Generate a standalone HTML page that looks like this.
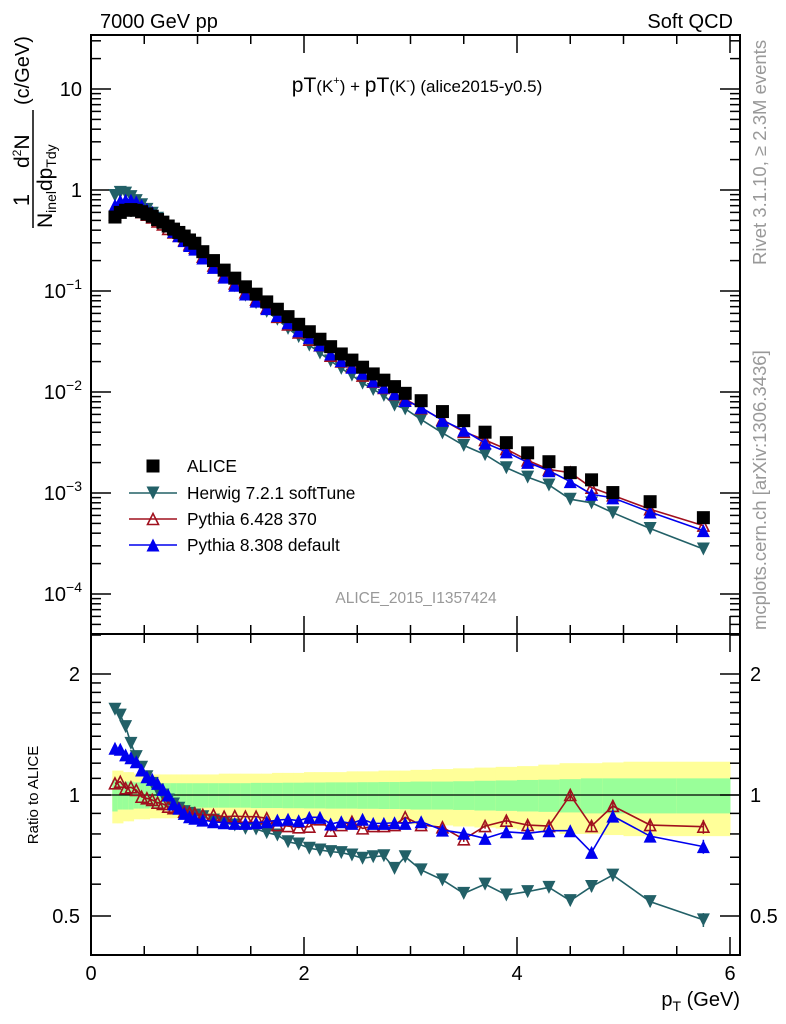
<!DOCTYPE html>
<html><head><meta charset="utf-8">
<style>
html,body{margin:0;padding:0;background:#fff;}
svg{display:block;font-family:"Liberation Sans",sans-serif;}
</style></head>
<body>
<svg id="chart" width="786" height="1024" viewBox="0 0 786 1024" xmlns="http://www.w3.org/2000/svg">
<rect x="0" y="0" width="786" height="1024" fill="#fff"/>
<g id="bands"></g>
<g id="grid"></g>
<g id="series"></g>
<text x="100" y="28" font-size="20">7000 GeV pp</text>
<text x="733" y="28" font-size="20" text-anchor="end">Soft QCD</text>
<text x="417" y="92" font-size="21" text-anchor="middle">pT<tspan font-size="17">(K<tspan dy="-8" font-size="11">+</tspan><tspan dy="8">) + </tspan></tspan>pT<tspan font-size="17">(K<tspan dy="-8" font-size="11">-</tspan><tspan dy="8">) (alice2015-y0.5)</tspan></tspan></text>
<text transform="translate(766,265) rotate(-90)" font-size="18.5" fill="#999">Rivet 3.1.10, ≥ 2.3M events</text>
<text transform="translate(766,630) rotate(-90)" font-size="18.5" fill="#999">mcplots.cern.ch [arXiv:1306.3436]</text>
<text x="416" y="603" font-size="15.5" fill="#999" text-anchor="middle">ALICE_2015_I1357424</text>
<g>
<text transform="translate(29,200) rotate(-90)" font-size="22" text-anchor="middle">1</text>
<line x1="33" y1="110" x2="33" y2="228" stroke="#000" stroke-width="1.5"/>
<text transform="translate(52,228) rotate(-90)" font-size="21">N<tspan font-size="14" dy="4">inel</tspan><tspan dy="-4">dp</tspan><tspan font-size="14" dy="4">Tdy</tspan></text>
<text transform="translate(29,168) rotate(-90)" font-size="21">d<tspan font-size="12" dy="-8">2</tspan><tspan dy="8">N</tspan></text>
<text transform="translate(29,105) rotate(-90)" font-size="20">(c/GeV)</text>
</g>
<text transform="translate(38,795) rotate(-90)" font-size="15" text-anchor="middle">Ratio to ALICE</text>
<text x="740" y="1006" font-size="20" text-anchor="end">p<tspan font-size="14" dy="5">T</tspan><tspan dy="-5"> (GeV)</tspan></text>
<g id="legend"></g>
</svg>
<script>
const binEdges = [0.2,0.25,0.3,0.35,0.4,0.45,0.5,0.55,0.6,0.65,0.7,0.75,0.8,0.85,0.9,0.95,1.0,1.1,1.2,1.3,1.4,1.5,1.6,1.7,1.8,1.9,2.0,2.1,2.2,2.3,2.4,2.5,2.6,2.7,2.8,2.9,3.0,3.2,3.4,3.6,3.8,4.0,4.2,4.4,4.6,4.8,5.0,5.5,6.0];
const aliceValues = [0.54,0.60,0.63,0.64,0.63,0.61,0.58,0.55,0.51,0.48,0.44,0.41,0.38,0.35,0.32,0.297,0.245,0.200,0.161,0.134,0.110,0.093,0.078,0.066,0.0557,0.0468,0.0395,0.0333,0.0281,0.0238,0.0207,0.0176,0.0151,0.0131,0.0113,0.0097,0.0082,0.0064,0.0052,0.0040,0.00315,0.0025,0.00204,0.00159,0.00135,0.00101,0.00082,0.00057];
const herwigRatio = [1.634,1.58,1.48,1.344,1.246,1.172,1.11,1.069,1.029,1.0,0.972,0.95,0.927,0.909,0.90,0.892,0.883,0.866,0.853,0.842,0.826,0.823,0.806,0.795,0.765,0.755,0.737,0.730,0.723,0.719,0.709,0.696,0.702,0.706,0.657,0.702,0.651,0.615,0.569,0.600,0.564,0.575,0.589,0.546,0.592,0.632,0.543,0.489];
const py6Ratio = [1.069,1.079,1.039,1.045,1.029,0.99,0.981,0.972,0.957,0.95,0.935,0.927,0.927,0.909,0.904,0.90,0.892,0.892,0.883,0.886,0.883,0.883,0.875,0.842,0.837,0.831,0.834,0.87,0.815,0.842,0.858,0.826,0.837,0.837,0.842,0.88,0.842,0.831,0.776,0.837,0.863,0.842,0.837,1.0,0.837,0.939,0.842,0.834];
const py8Ratio = [1.307,1.30,1.258,1.238,1.21,1.154,1.11,1.094,1.069,1.033,1.0,0.95,0.927,0.90,0.883,0.875,0.866,0.858,0.853,0.85,0.85,0.853,0.858,0.866,0.87,0.863,0.88,0.88,0.847,0.858,0.85,0.87,0.85,0.85,0.853,0.85,0.858,0.818,0.803,0.78,0.81,0.803,0.815,0.815,0.72,0.886,0.79,0.744];
const mcRelErr = [0,0,0,0,0,0,0,0,0,0,0,0,0,0,0,0,0,0,0,0,0,0,0,0,0,0,0,0,0,0,0,0,0,0,0,0,0.01,0.01,0.015,0.015,0.02,0.02,0.025,0.03,0.03,0.035,0.03,0.04];
const greenErr = [0.09,0.08,0.08,0.08,0.075,0.075,0.075,0.07,0.07,0.07,0.07,0.07,0.07,0.07,0.07,0.07,0.07,0.07,0.07,0.07,0.07,0.072,0.072,0.072,0.073,0.073,0.074,0.074,0.075,0.075,0.075,0.076,0.076,0.077,0.077,0.078,0.08,0.08,0.082,0.085,0.087,0.09,0.092,0.095,0.1,0.1,0.1,0.1];
const yellowErr = [0.15,0.15,0.14,0.14,0.13,0.13,0.13,0.125,0.125,0.125,0.125,0.125,0.125,0.125,0.125,0.125,0.125,0.125,0.13,0.13,0.13,0.13,0.13,0.135,0.135,0.135,0.14,0.14,0.14,0.14,0.145,0.145,0.145,0.15,0.15,0.15,0.155,0.16,0.165,0.17,0.175,0.18,0.19,0.2,0.2,0.205,0.21,0.21];
const mainTicks = [10,1,0.1,0.01,0.001,0.0001];
const mainTickLabels = ["10","1","10^-1","10^-2","10^-3","10^-4"];
const ratioTicks = [2,1,0.5];
const ratioTickLabels = ["2","1","0.5"];
const xTicks = [0,2,4,6];

const NS="http://www.w3.org/2000/svg";
const X0=91, X1=740, YT=35, YM=634, YB=955;
function xs(p){return 91+p*106.5;}
function ym(v){return 190-101*Math.log10(v);}
function yr(r){return 795-121*Math.log2(r);}
function mk(tag,attrs,parent){const e=document.createElementNS(NS,tag);for(const k in attrs)e.setAttribute(k,attrs[k]);parent.appendChild(e);return e;}
const centers=[];for(let i=0;i<aliceValues.length;i++)centers.push((binEdges[i]+binEdges[i+1])/2);

const bands=document.getElementById('bands');
for(let i=0;i<aliceValues.length;i++){
  const x=xs(binEdges[i]),w=xs(binEdges[i+1])-x+0.5;
  const by=mk('rect',{x:x,y:yr(1+yellowErr[i]),width:w,height:yr(1-yellowErr[i])-yr(1+yellowErr[i]),fill:'#ffff99'},bands);
  
  
  const bg=mk('rect',{x:x,y:yr(1+greenErr[i]),width:w,height:yr(1-greenErr[i])-yr(1+greenErr[i]),fill:'#99ff99'},bands);
  
  
}

const g=document.getElementById('grid');
mk('line',{x1:X0,y1:yr(1),x2:X1,y2:yr(1),stroke:'#000','stroke-width':1.2},g);
mk('rect',{x:X0,y:YT,width:X1-X0,height:YB-YT,fill:'none',stroke:'#000','stroke-width':2},g);
mk('line',{x1:X0,y1:YM,x2:X1,y2:YM,stroke:'#000','stroke-width':2},g);
for(let p=0;p<=6.01;p+=0.5){
  const x=xs(p),maj=Math.abs(p/2-Math.round(p/2))<1e-6,L=maj?18:9;
  [[YT,1],[YM,-1],[YM,1],[YB,-1]].forEach(([y,d])=>mk('line',{x1:x,y1:y,x2:x,y2:y+d*L,stroke:'#000','stroke-width':1.5},g));
}
xTicks.forEach(p=>{const t=mk('text',{x:xs(p),y:980,'font-size':20,'text-anchor':'middle'},g);t.textContent=String(p);
 
 });
for(let d=-5;d<=1;d++){for(let m=1;m<=9;m++){const v=m*Math.pow(10,d);const y=ym(v);if(y<YT||y>YM)continue;const L=m==1?20:10;
 mk('line',{x1:X0,y1:y,x2:X0+L,y2:y,stroke:'#000','stroke-width':1.5},g);mk('line',{x1:X1,y1:y,x2:X1-L,y2:y,stroke:'#000','stroke-width':1.5},g);}}
mainTicks.forEach((v,i)=>{const s=mainTickLabels[i];const t=mk('text',{x:82,y:ym(v)+7,'font-size':20,'text-anchor':'end'},g);
 if(s.indexOf('^')>=0){const [b,e]=s.split('^');t.textContent='';const a=document.createElementNS(NS,'tspan');a.textContent=b;t.appendChild(a);const c=document.createElementNS(NS,'tspan');c.setAttribute('dy','-9');c.setAttribute('font-size','14');c.textContent=e.replace('-','−');t.appendChild(c);}
 else t.textContent=s;
 
 });
[0.4,0.5,0.6,0.7,0.8,0.9,1,1.1,1.2,1.3,1.4,1.5,1.6,1.7,1.8,1.9,2,2.5].forEach(r=>{const y=yr(r);if(y<YM||y>YB)return;const L=(r==0.5||r==1||r==2)?20:10;
 mk('line',{x1:X0,y1:y,x2:X0+L,y2:y,stroke:'#000','stroke-width':1.5},g);mk('line',{x1:X1,y1:y,x2:X1-L,y2:y,stroke:'#000','stroke-width':1.5},g);});
ratioTicks.forEach((r,i)=>{const t=mk('text',{x:80,y:yr(r)+7,'font-size':20,'text-anchor':'end'},g);t.textContent=ratioTickLabels[i];
 
 
 const t2=mk('text',{x:750,y:yr(r)+7,'font-size':20},g);t2.textContent=ratioTickLabels[i];
 
 });

const S=document.getElementById('series');
function marker(type,cx,cy,color,parent){
  const s=6.5;
  if(type==='sq')return mk('rect',{x:cx-s,y:cy-s,width:2*s,height:2*s,fill:color},parent);
  if(type==='down')return mk('polygon',{points:`${cx-s},${cy-s} ${cx+s},${cy-s} ${cx},${cy+s}`,fill:color},parent);
  if(type==='up')return mk('polygon',{points:`${cx-s},${cy+s} ${cx+s},${cy+s} ${cx},${cy-s}`,fill:color},parent);
  if(type==='open')return mk('polygon',{points:`${cx-s+1},${cy+s-1} ${cx+s-1},${cy+s-1} ${cx},${cy-s+1}`,fill:'none',stroke:color,'stroke-width':1.6},parent);
}
const mcs=[{name:'herwig',ratio:herwigRatio,color:'#226067',type:'down'},{name:'pythia6',ratio:py6Ratio,color:'#a0101e',type:'open'},{name:'pythia8',ratio:py8Ratio,color:'#0000ee',type:'up'}];
const dg=mk('g',{},S);


mcs.forEach(m=>{
  const gm=mk('g',{},S);
  
  
  const pm=centers.map((c,i)=>xs(c)+','+ym(aliceValues[i]*m.ratio[i])).join(' ');
  mk('polyline',{points:pm,fill:'none',stroke:m.color,'stroke-width':1.6},gm);
  const pr=centers.map((c,i)=>xs(c)+','+yr(m.ratio[i])).join(' ');
  mk('polyline',{points:pr,fill:'none',stroke:m.color,'stroke-width':1.6},gm);
  centers.forEach((c,i)=>{
    const pt=marker(m.type,xs(c),ym(aliceValues[i]*m.ratio[i]),m.color,gm);
    
    
    const e=mcRelErr[i]*m.ratio[i];
    if(e>0)mk('line',{x1:xs(c),x2:xs(c),y1:yr(m.ratio[i]+e),y2:yr(m.ratio[i]-e),stroke:m.color,'stroke-width':1.5},gm);
    const rp=marker(m.type,xs(c),yr(m.ratio[i]),m.color,gm);
    
    
  });
});
centers.forEach((c,i)=>{const p=marker('sq',xs(c),ym(aliceValues[i]),'#000',dg);
  
  });
S.appendChild(dg);

const Lg=document.getElementById('legend');
const e0=marker('sq',153,466,'#000',Lg);


const lt=mk('text',{x:187,y:472,'font-size':17.3},Lg);lt.textContent='ALICE';
const legNames=['Herwig 7.2.1 softTune','Pythia 6.428 370','Pythia 8.308 default'];
mcs.forEach((m,i)=>{const y=493+i*26;
  const le=mk('g',{},Lg);
  
  
  mk('line',{x1:129,x2:177,y1:y,y2:y,stroke:m.color,'stroke-width':1.6},le);
  marker(m.type,153,y,m.color,le);
  const t=mk('text',{x:187,y:y+6,'font-size':17.3},le);t.textContent=legNames[i];});
</script>
</body></html>
